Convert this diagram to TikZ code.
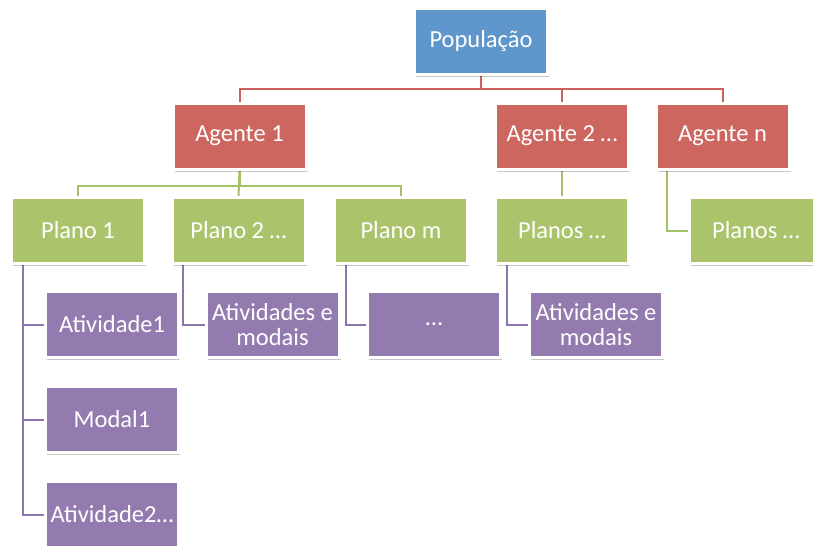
\documentclass[tikz,border=0pt]{standalone}
\usepackage{fontspec}
\setmainfont{Carlito}
\usetikzlibrary{shadows,backgrounds}

\definecolor{popfill}{HTML}{5F96CB}
\definecolor{agfill}{HTML}{CD665F}
\definecolor{plfill}{HTML}{ABC46B}
\definecolor{atfill}{HTML}{937BB0}
\definecolor{agline}{HTML}{C9605A}
\definecolor{plline}{HTML}{A3C165}
\definecolor{atline}{HTML}{8E74AC}

\tikzset{
  box/.style={rectangle, draw=white, line width=3pt,
    minimum width=133pt, minimum height=66pt, inner sep=1pt,
    text=white, align=center,
    font=\fontsize{24.5}{25}\selectfont,
    drop shadow={shadow xshift=1.5pt, shadow yshift=-2.5pt,
      fill=black, opacity=0.22}},
  popbox/.style={box, fill=popfill},
  agbox/.style={box, fill=agfill},
  plbox/.style={box, fill=plfill},
  atbox/.style={box, fill=atfill},
  link/.style={line width=2pt},
  aglink/.style={link, draw=agline},
  pllink/.style={link, draw=plline},
  atlink/.style={link, draw=atline},
}

\begin{document}
\begin{tikzpicture}[x=1pt, y=-1pt]
  \useasboundingbox (0,0) rectangle (813,547);

  % top level
  \node[popbox] (pop) at (481,41.5) {População};

  % agents
  \node[agbox] (ag1) at (239.5,136) {Agente 1};
  \node[agbox] (ag2) at (562,136) {Agente 2 …};
  \node[agbox] (agn) at (722.5,136) {Agente n};

  % plans
  \node[plbox] (pl1) at (78,230.5) {Plano 1};
  \node[plbox] (pl2) at (238.5,230.5) {Plano 2 …};
  \node[plbox] (plm) at (401,230.5) {Plano m};
  \node[plbox] (pla) at (562,230.5) {Planos …};
  \node[plbox] (plb) at (756,230.5) {Planos …};

  % activities and modes
  \node[atbox] (at1) at (112,324.5) {Atividade1};
  \node[atbox] (md1) at (112,419.5) {Modal1};
  \node[atbox] (at2) at (112,514.5) {Atividade2…};
  \node[atbox] (am2) at (272.5,324.5) {Atividades e\\modais};
  \node[atbox] (amm) at (434,324.5) {…};
  \node[atbox] (ama) at (596,324.5) {Atividades e\\modais};

  \begin{scope}[on background layer]
    % population to agents
    \draw[aglink] (pop.south) -- ++(0,13) -| (ag1.north);
    \draw[aglink] (pop.south) -- ++(0,13) -| (ag2.north);
    \draw[aglink] (pop.south) -- ++(0,13) -| (agn.north);

    % agents to plans
    \draw[pllink] (ag1.south) -- ++(0,15) -| (pl1.north);
    \draw[pllink] (ag1.south) -- (pl2.north);
    \draw[pllink] (ag1.south) -- ++(0,15) -| (plm.north);
    \draw[pllink] (ag2.south) -- (pla.north);
    \draw[pllink] ([xshift=12.5pt]agn.south west) |- (plb.west);

    % plans to activities
    \draw[atlink] ([xshift=12.5pt]pl1.south west) |- (at1.west);
    \draw[atlink] ([xshift=12.5pt]pl1.south west) |- (md1.west);
    \draw[atlink] ([xshift=12.5pt]pl1.south west) |- (at2.west);
    \draw[atlink] ([xshift=12.5pt]pl2.south west) |- (am2.west);
    \draw[atlink] ([xshift=12.5pt]plm.south west) |- (amm.west);
    \draw[atlink] ([xshift=12.5pt]pla.south west) |- (ama.west);
  \end{scope}
\end{tikzpicture}
\end{document}
